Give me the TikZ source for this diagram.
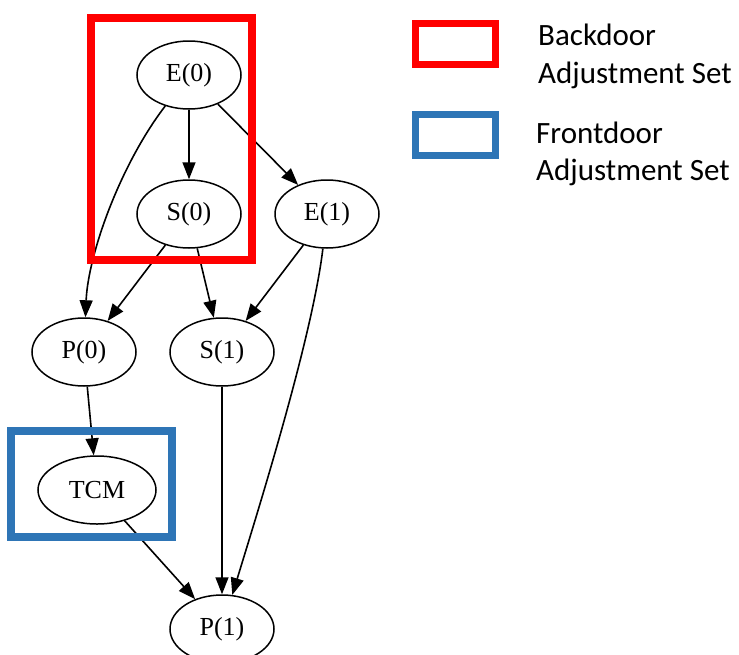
\documentclass[tikz,border=0pt]{standalone}
\usepackage{fontspec}
\setmainfont{Liberation Serif}
\newfontfamily\legfont{Carlito}
\usetikzlibrary{arrows.meta,shapes.geometric}
\definecolor{bdred}{RGB}{255,0,0}
\definecolor{fdblue}{RGB}{46,117,182}
\begin{document}
\begin{tikzpicture}[x=1pt,y=1pt,
  var/.style={draw,ellipse,line width=1.5pt,minimum width=104pt,minimum height=68pt,inner sep=0pt,font=\fontsize{26}{30}\selectfont},
  edge/.style={line width=1.6pt,-{Triangle[length=17pt,width=13pt]}},
  setbox/.style={line width=8pt},
  legtext/.style={anchor=base west,inner sep=0pt,font=\legfont\fontsize{31}{36}\selectfont}]
\useasboundingbox (0,0) rectangle (739,-654);
% nodes
\node[var] (E0) at (189,-75) {E(0)};
\node[var] (S0) at (189,-214) {S(0)};
\node[var] (E1) at (327,-214) {E(1)};
\node[var] (P0) at (84,-352) {P(0)};
\node[var] (S1) at (222,-352) {S(1)};
\node[var,minimum width=118pt] (TCM) at (97,-490) {TCM};
\node[var] (P1) at (222,-629) {P(1)};
% edges
\draw[edge] (E0) -- (S0);
\draw[edge] (E0) -- (E1);
\draw[edge] (E0) .. controls (120,-165) and (88,-255) .. (P0);
\draw[edge] (S0) -- (P0);
\draw[edge] (S0) -- (S1);
\draw[edge] (E1) -- (S1);
\draw[edge] (E1) .. controls (312,-340) and (255,-520) .. (P1);
\draw[edge] (P0) -- (TCM);
\draw[edge] (TCM) -- (P1);
\draw[edge] (S1) -- (P1);
% adjustment set boxes
\draw[setbox,draw=bdred] (91,-18) rectangle (252,-260);
\draw[setbox,draw=fdblue] (11,-431) rectangle (172,-537);
% legend
\draw[line width=7pt,draw=bdred] (415,-23) rectangle (495,-64);
\draw[line width=7pt,draw=fdblue] (415,-114) rectangle (495,-155);
\node[legtext] (l1) at (538,-45) {Backdoor};
\node[legtext] (l2) at (538,-83) {Adjustment Set};
\node[legtext] (l3) at (536,-143) {Frontdoor};
\node[legtext] (l4) at (536,-180) {Adjustment Set};
\end{tikzpicture}
\end{document}
